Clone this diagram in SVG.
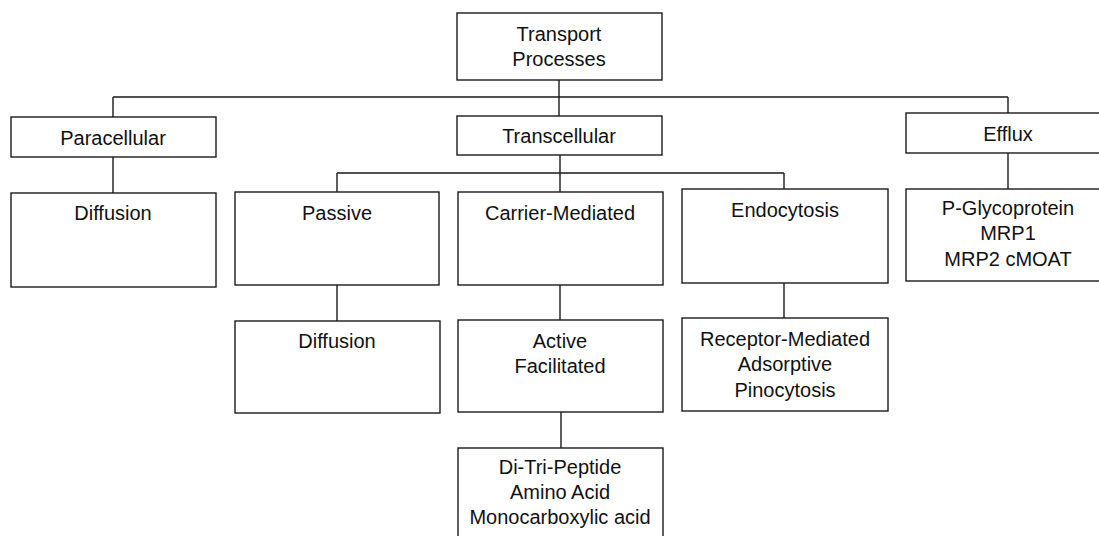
<svg xmlns="http://www.w3.org/2000/svg" width="1099" height="536" viewBox="0 0 1099 536">
<style>
.box{fill:#fff;stroke:#1a1a1a;stroke-width:1.4}
.ln{fill:none;stroke:#1a1a1a;stroke-width:1.4}
text{font-family:"Liberation Sans",Arial,sans-serif;font-size:20px;fill:#111;text-anchor:middle}
</style>
<rect width="1099" height="536" fill="#fff"/>
<g id="connectors">
<path class="ln" d="M559,80V97M113,97H1008M113,97V117M559,97V116M1008,97V113"/>
<path class="ln" d="M113,157V193"/>
<path class="ln" d="M560,155V173M337,173H784M337,173V192M560,173V192M784,173V189"/>
<path class="ln" d="M337,285V321"/>
<path class="ln" d="M560,285V320"/>
<path class="ln" d="M561,412V448"/>
<path class="ln" d="M784,283V318"/>
<path class="ln" d="M1008,153V189"/>
</g>
<g id="transport">
<rect class="box" x="457" y="13" width="205" height="67"/>
<text x="559" y="41">Transport</text>
<text x="559" y="66">Processes</text>
</g>
<g id="paracellular">
<rect class="box" x="11" y="117" width="205" height="40"/>
<text x="113" y="145">Paracellular</text>
</g>
<g id="transcellular">
<rect class="box" x="457" y="116" width="205" height="39"/>
<text x="559" y="143">Transcellular</text>
</g>
<g id="efflux">
<rect class="box" x="906" y="113" width="205" height="40"/>
<text x="1008" y="141">Efflux</text>
</g>
<g id="diffusion1">
<rect class="box" x="11" y="193" width="205" height="94"/>
<text x="113" y="220">Diffusion</text>
</g>
<g id="passive">
<rect class="box" x="235" y="192" width="204" height="93"/>
<text x="337" y="220">Passive</text>
</g>
<g id="carrier">
<rect class="box" x="458" y="192" width="205" height="93"/>
<text x="560" y="220">Carrier-Mediated</text>
</g>
<g id="endocytosis">
<rect class="box" x="682" y="189" width="206" height="94"/>
<text x="785" y="217">Endocytosis</text>
</g>
<g id="pgp">
<rect class="box" x="906" y="189" width="205" height="92"/>
<text x="1008" y="215">P-Glycoprotein</text>
<text x="1008" y="240">MRP1</text>
<text x="1008" y="266">MRP2 cMOAT</text>
</g>
<g id="diffusion2">
<rect class="box" x="235" y="321" width="205" height="92"/>
<text x="337" y="348">Diffusion</text>
</g>
<g id="active">
<rect class="box" x="458" y="320" width="205" height="92"/>
<text x="560" y="348">Active</text>
<text x="560" y="373">Facilitated</text>
</g>
<g id="receptor">
<rect class="box" x="682" y="318" width="206" height="93"/>
<text x="785" y="346">Receptor-Mediated</text>
<text x="785" y="371">Adsorptive</text>
<text x="785" y="397">Pinocytosis</text>
</g>
<g id="ditri">
<rect class="box" x="458" y="448" width="205" height="100"/>
<text x="560" y="474">Di-Tri-Peptide</text>
<text x="560" y="499">Amino Acid</text>
<text x="560" y="524">Monocarboxylic acid</text>
</g>
</svg>
